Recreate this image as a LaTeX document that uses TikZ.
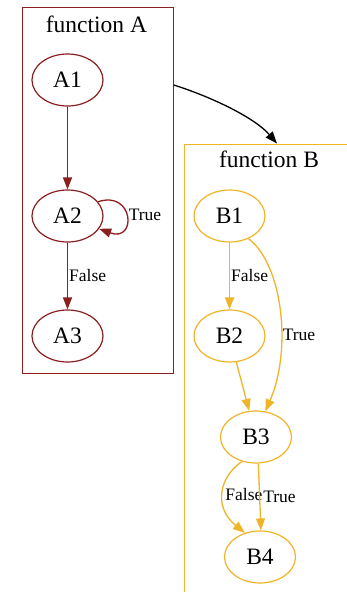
\documentclass[tikz,border=0pt]{standalone}
\usepackage{fontspec}
\setmainfont{Liberation Serif}
\usetikzlibrary{shapes.geometric,arrows.meta}
\definecolor{fnA}{RGB}{139,30,30}
\definecolor{fnB}{RGB}{240,180,40}
\begin{document}
\begin{tikzpicture}[x=1pt,y=-1pt,
  blk/.style={ellipse,draw,line width=1.2pt,minimum width=71pt,minimum height=52pt,
    inner sep=0pt,font=\fontsize{23.5}{28}\selectfont},
  ablk/.style={blk,draw=fnA},
  bblk/.style={blk,draw=fnB},
  cluster/.style={draw,line width=1.2pt,rectangle,inner sep=0pt},
  title/.style={font=\fontsize{23.5}{28}\selectfont,anchor=base,inner sep=0pt},
  elabel/.style={font=\fontsize{17.5}{20}\selectfont,inner sep=0pt,text=black},
  flow/.style={line width=1.3pt,-{Triangle[length=12pt,width=9pt]}},
]
\useasboundingbox (0,0) rectangle (347,592);
\fill[white] (0,0) rectangle (347,592);
\clip (0,0) rectangle (347,592);

% clusters
\node[cluster,draw=fnA,minimum width=151pt,minimum height=366pt,anchor=north west] (clA) at (21.5,6.5) {};
\node[cluster,draw=fnB,minimum width=230pt,minimum height=520pt,anchor=north west] (clB) at (183.5,143.5) {};
\node[title] (tA) at (96.5,32) {function A};
\node[title] (tB) at (269,167) {function B};

% function A
\node[ablk] (A1) at (67.5,80) {A1};
\node[ablk] (A2) at (67.5,216) {A2};
\node[ablk] (A3) at (67.5,336) {A3};

\draw[flow,fnA] (A1) -- (A2);
\draw[flow,fnA] (A2.25) .. controls +(36,-12) and +(38,14) .. (A2.-22);
\node[elabel] (lA2t) at (145,215) {True};
\draw[flow,fnA] (A2) -- node[elabel,anchor=west,xshift=1pt] (lA2f) {False} (A3);

% function B
\node[bblk] (B1) at (229.5,216) {B1};
\node[bblk] (B2) at (229.5,336) {B2};
\node[bblk] (B3) at (256,437) {B3};
\node[bblk] (B4) at (260,557) {B4};

\draw[flow,fnB] (B1) -- node[elabel,anchor=west,xshift=1pt] (lB1f) {False} (B2);
\draw[flow,fnB] (B1.-50) .. controls (283,265) and (292,350) .. (B3.70);
\node[elabel] (lB1t) at (299,335) {True};
\draw[flow,fnB] (B2) -- (B3);
\draw[flow,fnB] (B3.-120) .. controls (218,478) and (214,508) .. node[elabel,anchor=west,xshift=2pt] (lB3f) {False} (B4.122);
\draw[flow,fnB] (B3.-85) -- node[elabel,anchor=west,xshift=3pt] (lB3t) {True} (B4.88);

% call from A into B
\coordinate (aOut) at (clA.east |- 0,85);
\coordinate (bIn) at (clB.north -| 277,0);
\draw[flow,black] (aOut) .. controls (212,97) and (255,118) .. (bIn);
\end{tikzpicture}
\end{document}
